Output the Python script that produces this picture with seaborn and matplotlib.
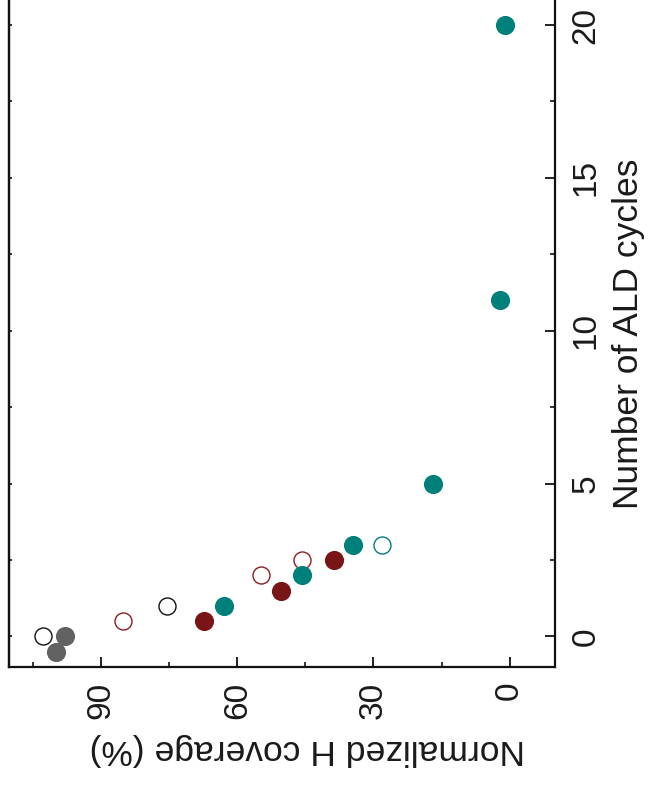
import matplotlib
matplotlib.use("Agg")
import matplotlib.pyplot as plt
import seaborn as sns
import pandas as pd
from matplotlib.ticker import MultipleLocator

sns.set_theme(style="white")
plt.rcParams["font.family"] = ["Liberation Sans", "DejaVu Sans"]

# H coverage (%) versus number of ALD cycles, one list pair per series
gray_filled_cov = [97.9, 100.0]
gray_filled_cyc = [0, -0.5]
black_open_cov = [102.7, 75.4]
black_open_cyc = [0, 1]
red_open_cov = [85.2, 54.8, 45.8]
red_open_cyc = [0.5, 2, 2.5]
red_filled_cov = [67.4, 50.3, 38.8]
red_filled_cyc = [0.5, 1.5, 2.5]
teal_open_cov = [28.2]
teal_open_cyc = [3]
teal_filled_cov = [63.0, 45.8, 34.5, 16.9, 2.1, 1.0]
teal_filled_cyc = [1, 2, 3, 5, 11, 20]

TEAL = "#00807b"
RED = "#7a1517"
RED_EDGE = "#8e1d1f"
GRAY = "#626262"

series = [
    # (coverage, cycles, face, edge, open)
    (black_open_cov, black_open_cyc, "white", "#111111", True),
    (red_open_cov, red_open_cyc, "white", RED_EDGE, True),
    (teal_open_cov, teal_open_cyc, "white", TEAL, True),
    (gray_filled_cov, gray_filled_cyc, GRAY, GRAY, False),
    (red_filled_cov, red_filled_cyc, RED, RED, False),
    (teal_filled_cov, teal_filled_cyc, TEAL, TEAL, False),
]

fig = plt.figure(figsize=(6.51, 7.89), dpi=100)
ax = fig.add_axes([9 / 651, 122 / 789, 546 / 651, 667 / 789])

for cov, cyc, face, edge, hollow in series:
    df = pd.DataFrame({"coverage": cov, "cycles": cyc})
    if hollow:
        sns.scatterplot(data=df, x="coverage", y="cycles", ax=ax, s=150,
                        color=face, edgecolor=edge, linewidth=1.0,
                        zorder=3, clip_on=False)
    else:
        sns.scatterplot(data=df, x="coverage", y="cycles", ax=ax, s=190,
                        color=face, edgecolor=face, linewidth=0,
                        zorder=4, clip_on=False)

ax.set_xlim(110.3, -10)
ax.set_ylim(-1.0, 20.82)

ax.xaxis.set_major_locator(MultipleLocator(30))
ax.xaxis.set_minor_locator(MultipleLocator(15))
ax.yaxis.set_major_locator(MultipleLocator(5))
ax.yaxis.set_minor_locator(MultipleLocator(2.5))

ax.yaxis.tick_right()
ax.tick_params(axis="both", which="major", direction="in", length=7,
               width=1.3, color="#111111", labelsize=24, labelcolor="#1a1a1a")
ax.tick_params(axis="both", which="minor", direction="in", length=3.5,
               width=1.2, color="#111111")
ax.tick_params(axis="x", which="both", top=False, bottom=True, pad=10.5,
               labelrotation=90)
ax.tick_params(axis="y", which="both", left=False, right=True, pad=11,
               labelrotation=90)
for lab in ax.get_yticklabels():
    lab.set_verticalalignment("center")

# short inward ticks along the left edge
left = ax.secondary_yaxis("left")
left.yaxis.set_major_locator(MultipleLocator(2.5))
left.tick_params(direction="in", length=2.5, width=1.2, color="#111111",
                 labelleft=False)
left.spines["left"].set_linewidth(1.6)
left.spines["left"].set_color("#111111")

for side in ["left", "right", "bottom"]:
    ax.spines[side].set_visible(True)
    ax.spines[side].set_linewidth(1.6)
    ax.spines[side].set_color("#111111")
ax.spines["top"].set_visible(False)

ax.set_xlabel("Normalized H coverage (%)", fontsize=25.5, rotation=180,
              color="#1a1a1a", va="top", ha="center")
ax.xaxis.set_label_coords((307 - 9) / 546, (667 - 733) / 667)
ax.yaxis.set_label_position("right")
ax.set_ylabel("Number of ALD cycles", fontsize=25.5, rotation=90,
              color="#1a1a1a")
ax.yaxis.set_label_coords((612 - 9) / 546, 0.5)
ax.yaxis.label.set_verticalalignment("top")

fig.savefig("out.png", dpi=100)
